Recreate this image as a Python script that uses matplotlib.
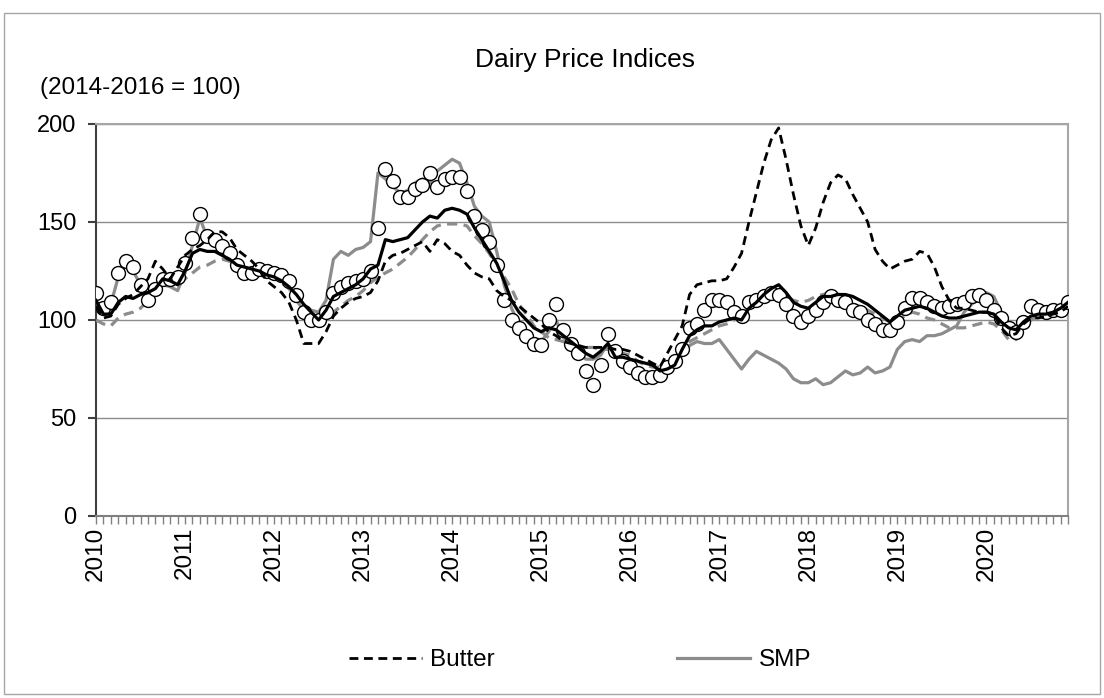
import numpy as np
import matplotlib
matplotlib.use("Agg")
import matplotlib.pyplot as plt
from matplotlib.patches import Rectangle

plt.rcParams['font.family'] = ['Liberation Sans', 'DejaVu Sans']

# monthly index values, Jan 2010 .. Dec 2020 (2014-2016 = 100)
years = [str(y) for y in range(2010, 2021)]

butter = [107, 101, 102, 108, 111, 113, 117, 121, 130, 126, 121, 127,
          133, 136, 138, 141, 145, 145, 142, 136, 133, 130, 126, 120,
          117, 114, 109, 100, 88, 88, 88, 94, 102, 106, 109, 111,
          112, 114, 120, 130, 133, 134, 136, 138, 140, 135, 141, 139,
          135, 133, 128, 124, 122, 121, 115, 112, 110, 107, 104, 101,
          98, 94, 92, 89, 88, 87, 86, 86, 86, 86, 85, 85,
          84, 82, 80, 78, 76, 83, 90, 97, 113, 118, 119, 120,
          120, 121, 127, 134, 150, 165, 180, 192, 198, 182, 164, 148,
          138, 147, 160, 170, 174, 172, 164, 157, 150, 136, 130, 126,
          128, 130, 131, 135, 134, 127, 117, 110, 106, 106, 105, 104,
          104, 103, 96, 92, 93, 98, 101, 101, 102, 103, 104, 107]

smp = [107, 104, 108, 122, 128, 125, 118, 113, 115, 118, 117, 115,
       124, 138, 152, 142, 140, 137, 132, 126, 124, 122, 123, 122,
       121, 120, 117, 110, 105, 105, 104, 110, 131, 135, 133, 136,
       137, 140, 175, 172, 168, 165, 166, 170, 172, 170, 176, 179,
       182, 180, 170, 158, 153, 150, 135, 118, 106, 98, 93, 90,
       89, 94, 100, 91, 88, 84, 80, 80, 82, 88, 82, 77,
       75, 73, 72, 72, 73, 75, 78, 82, 87, 89, 88, 88,
       90, 85, 80, 75, 80, 84, 82, 80, 78, 75, 70, 68,
       68, 70, 67, 68, 71, 74, 72, 73, 76, 73, 74, 76,
       85, 89, 90, 89, 92, 92, 93, 95, 97, 104, 108, 111,
       114, 112, 104, 93, 90, 96, 100, 102, 103, 104, 106, 109]

wmp = [114, 106, 109, 124, 130, 127, 118, 110, 116, 121, 121, 122,
       129, 142, 154, 143, 141, 138, 134, 128, 124, 124, 126, 125,
       124, 123, 120, 113, 104, 100, 100, 104, 114, 117, 119, 120,
       121, 125, 147, 177, 171, 163, 163, 167, 169, 175, 168, 172,
       173, 173, 166, 153, 146, 140, 128, 110, 100, 96, 92, 88,
       87, 100, 108, 95, 88, 83, 74, 67, 77, 93, 84, 79,
       76, 73, 71, 71, 72, 76, 79, 85, 96, 98, 105, 110,
       110, 109, 104, 102, 109, 110, 112, 114, 113, 108, 102, 99,
       102, 105, 109, 112, 110, 109, 105, 104, 100, 98, 95, 95,
       99, 106, 111, 111, 109, 107, 106, 107, 108, 109, 112, 113,
       110, 105, 101, 96, 94, 99, 107, 105, 104, 105, 105, 109]

cheese = [100, 98, 97, 101, 103, 104, 106, 110, 114, 118, 118, 119,
          121, 124, 127, 128, 130, 131, 130, 128, 127, 125, 124, 123,
          122, 119, 116, 111, 105, 101, 100, 101, 104, 107, 110, 112,
          115, 119, 122, 124, 126, 129, 132, 136, 141, 145, 148, 149,
          149, 149, 148, 143, 139, 134, 128, 122, 116, 108, 103, 97,
          94, 91, 90, 89, 88, 87, 86, 86, 85, 85, 84, 83,
          82, 79, 77, 76, 76, 77, 80, 85, 89, 91, 93, 95,
          97, 98, 100, 103, 106, 109, 112, 114, 114, 112, 110, 109,
          110, 112, 113, 114, 113, 110, 108, 107, 105, 103, 101, 99,
          100, 102, 104, 103, 101, 100, 98, 96, 96, 96, 97, 98,
          99, 98, 95, 90, 91, 96, 100, 101, 102, 103, 104, 107]

dairy = [110, 103, 103, 109, 112, 111, 113, 114, 116, 121, 120, 118,
         125, 134, 136, 135, 135, 133, 131, 128, 127, 126, 125, 123,
         122, 120, 117, 113, 108, 104, 100, 105, 112, 114, 116, 118,
         121, 126, 128, 141, 140, 141, 142, 146, 150, 153, 152, 156,
         157, 156, 154, 147, 141, 135, 129, 120, 110, 104, 100, 96,
         94, 96, 95, 92, 89, 86, 83, 81, 84, 88, 81, 81,
         80, 79, 78, 77, 74, 75, 77, 85, 92, 95, 97, 97,
         99, 100, 101, 100, 106, 109, 113, 116, 118, 114, 109, 107,
         106, 109, 112, 112, 113, 113, 112, 110, 108, 105, 102, 99,
         102, 105, 106, 107, 106, 104, 102, 101, 101, 102, 103, 104,
         104, 103, 99, 96, 95, 99, 102, 103, 103, 104, 106, 109]

x = np.arange(len(butter))

W, H = 1104, 698
fig = plt.figure(figsize=(W / 100, H / 100), dpi=100)
fig.patches.append(Rectangle((4 / W, 4 / H), 1096 / W, 681 / H, transform=fig.transFigure,
                             fill=False, edgecolor='#A6A6A6', lw=1))
ax = fig.add_axes([96 / W, 1 - 516 / H, 972 / W, 392 / H])

ax.plot(x, smp, color='#8C8C8C', lw=2.3, label='SMP', zorder=3)
ax.plot(x, cheese, color='#8C8C8C', lw=2.3, dashes=(3.2, 2), zorder=3)
ax.plot(x, wmp, ls='none', marker='o', ms=10, mfc='white', mec='black', mew=1, zorder=4)
ax.plot(x, butter, color='black', lw=2.0, dashes=(3.2, 2), label='Butter', zorder=5)
ax.plot(x, dairy, color='black', lw=2.3, zorder=6)

ax.set_xlim(0, len(x) - 1)
ax.set_ylim(0, 200)
ax.set_yticks([0, 50, 100, 150, 200])
ax.yaxis.grid(True, color='#8C8C8C', lw=1)
ax.set_axisbelow(True)

ax.set_xticks(np.arange(0, len(x), 12))
ax.set_xticklabels(years, rotation=90)
ax.set_xticks(x, minor=True)

ax.tick_params(axis='x', which='both', direction='out', length=6, width=1,
               color='#808080', labelsize=17.5, pad=2)
ax.tick_params(axis='y', direction='out', length=6, width=1.5, color='#404040',
               labelsize=17, pad=8)

for side in ['top', 'right']:
    ax.spines[side].set_color('#A6A6A6')
    ax.spines[side].set_linewidth(1.5)
ax.spines['left'].set_color('#404040')
ax.spines['left'].set_linewidth(1.5)
ax.spines['bottom'].set_color('#808080')
ax.spines['bottom'].set_linewidth(1.5)

fig.text(585 / W, 1 - 60 / H, 'Dairy Price Indices', ha='center', va='center', fontsize=19)
fig.text(40 / W, 1 - 88 / H, '(2014-2016 = 100)', ha='left', va='center', fontsize=17.5)

h, l = ax.get_legend_handles_labels()
fig.legend([h[1], h[0]], [l[1], l[0]], loc='center', bbox_to_anchor=(580 / W, 1 - 660 / H),
           ncol=2, frameon=False, fontsize=17.5, handlelength=3.0, handletextpad=0.35,
           columnspacing=7.5)

fig.savefig('out.png', dpi=100)
